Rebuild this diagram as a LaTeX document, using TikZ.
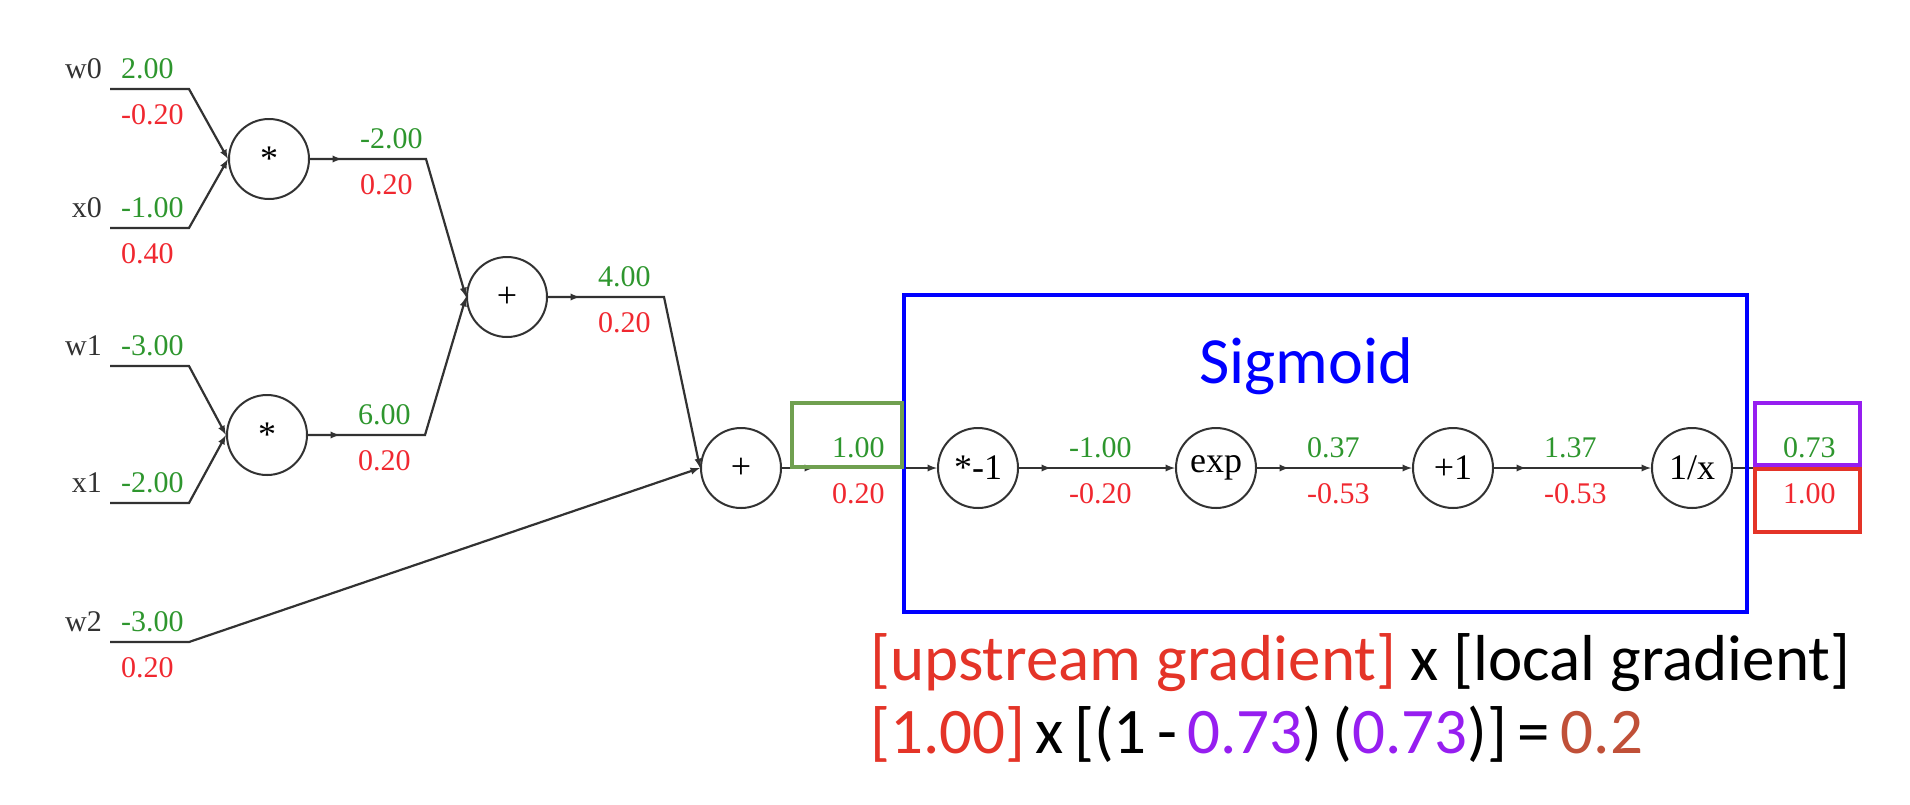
\documentclass[tikz,border=0pt]{standalone}
\usepackage{fontspec}
\setmainfont{Liberation Serif}
\newfontfamily\slidefont{Carlito}
\usetikzlibrary{positioning,arrows}

\definecolor{valgreen}{RGB}{46,150,46}
\definecolor{gradred}{RGB}{240,40,48}
\definecolor{boxgreen}{RGB}{112,160,80}
\definecolor{boxblue}{RGB}{0,0,255}
\definecolor{boxpurple}{RGB}{150,30,240}
\definecolor{boxred}{RGB}{228,52,40}
\definecolor{resbrown}{RGB}{192,80,56}
\definecolor{wiregray}{RGB}{50,50,50}

\tikzset{
  gate/.style={circle, draw=wiregray, line width=2, minimum size=80, inner sep=0, font=\fontsize{36}{40}\selectfont},
  wire/.style={line width=2.2, color=wiregray},
  val/.style={text=valgreen, font=\fontsize{30}{34}\selectfont, anchor=base west, inner sep=0},
  grad/.style={text=gradred, font=\fontsize{30}{34}\selectfont, anchor=base west, inner sep=0},
  inname/.style={text=wiregray, font=\fontsize{30}{34}\selectfont, anchor=base east, inner sep=0},
  hilite/.style={line width=4},
}

\begin{document}
\begin{tikzpicture}[x=1pt,y=-1pt]
\useasboundingbox (0,0) rectangle (1910,804);

% gates
\node[gate] (m0) at (269,159) {\raisebox{-0.25ex}{*}};
\node[gate] (m1) at (267,435) {\raisebox{-0.25ex}{*}};
\node[gate] (p0) at (507,297) {+};
\node[gate] (p1) at (741,468) {+};
\node[gate] (neg) at (978,468) {*-1};
\node[gate] (ex) at (1216,468) {exp};
\node[gate] (inc) at (1453,468) {+1};
\node[gate] (inv) at (1692,468) {1/x};

% input wires
\coordinate (w0s) at (110,89);  \coordinate (w0b) at (189,89);
\coordinate (x0s) at (110,228); \coordinate (x0b) at (189,228);
\coordinate (w1s) at (110,366); \coordinate (w1b) at (189,366);
\coordinate (x1s) at (110,503); \coordinate (x1b) at (189,503);
\coordinate (w2s) at (110,642); \coordinate (w2b) at (189,642);
\draw[wire,-latex] (w0s) -- (w0b) -- (m0.west);
\draw[wire,-latex] (x0s) -- (x0b) -- (m0.west);
\draw[wire,-latex] (w1s) -- (w1b) -- (m1.west);
\draw[wire,-latex] (x1s) -- (x1b) -- (m1.west);
\draw[wire,-latex] (w2s) -- (w2b) -- (p1.west);

% inner wires
\coordinate (m0b) at (426,159);
\coordinate (m1b) at (425,435);
\coordinate (p0b) at (664,297);
\coordinate (outend) at (1858,468);
\draw[wire,-latex] (m0.east) -- (m0b) -- (p0.west);
\draw[wire,-latex] (m1.east) -- (m1b) -- (p0.west);
\draw[wire,-latex] (p0.east) -- (p0b) -- (p1.west);
\draw[wire,-latex] (p1.east) -- (neg.west);
\draw[wire,-latex] (neg.east) -- (ex.west);
\draw[wire,-latex] (ex.east) -- (inc.west);
\draw[wire,-latex] (inc.east) -- (inv.west);
\draw[wire] (inv.east) -- (outend);
\foreach \g in {m0,m1,p0,p1,neg,ex,inc}
  \draw[wire,-latex] (\g.east) -- ++(32,0);

% input labels
\node[inname] (w0l) at (102,78) {w0};
\node[val] (w0v) at (121,78) {2.00};
\node[grad] (w0g) at (121,124) {-0.20};
\node[inname] (x0l) at (102,217) {x0};
\node[val] (x0v) at (121,217) {-1.00};
\node[grad] (x0g) at (121,263) {0.40};
\node[inname] (w1l) at (102,355) {w1};
\node[val] (w1v) at (121,355) {-3.00};
\node[inname] (x1l) at (102,492) {x1};
\node[val] (x1v) at (121,492) {-2.00};
\node[inname] (w2l) at (102,631) {w2};
\node[val] (w2v) at (121,631) {-3.00};
\node[grad] (w2g) at (121,677) {0.20};

% edge values
\node[val] (m0v) at ([xshift=50,yshift=11]m0.east) {-2.00};
\node[grad] (m0g) at ([xshift=50,yshift=-35]m0.east) {0.20};
\node[val] (m1v) at ([xshift=50,yshift=11]m1.east) {6.00};
\node[grad] (m1g) at ([xshift=50,yshift=-35]m1.east) {0.20};
\node[val] (p0v) at ([xshift=50,yshift=11]p0.east) {4.00};
\node[grad] (p0g) at ([xshift=50,yshift=-35]p0.east) {0.20};
\node[val] (p1v) at ([xshift=50,yshift=11]p1.east) {1.00};
\node[grad] (p1g) at ([xshift=50,yshift=-35]p1.east) {0.20};
\node[val] (negv) at ([xshift=50,yshift=11]neg.east) {-1.00};
\node[grad] (negg) at ([xshift=50,yshift=-35]neg.east) {-0.20};
\node[val] (exv) at ([xshift=50,yshift=11]ex.east) {0.37};
\node[grad] (exg) at ([xshift=50,yshift=-35]ex.east) {-0.53};
\node[val] (incv) at ([xshift=50,yshift=11]inc.east) {1.37};
\node[grad] (incg) at ([xshift=50,yshift=-35]inc.east) {-0.53};
\node[val] (invv) at ([xshift=50,yshift=11]inv.east) {0.73};
\node[grad] (invg) at ([xshift=50,yshift=-35]inv.east) {1.00};

% highlight boxes
\draw[hilite, boxblue] (904,295) rectangle (1747,612);
\draw[hilite, boxgreen] (792,403) rectangle (902,467);
\draw[hilite, boxpurple] (1755,403) rectangle (1860,465);
\draw[hilite, boxred] (1755,469) rectangle (1860,532);
\node[anchor=base, inner sep=0, text=boxblue, font=\slidefont\fontsize{66}{70}\selectfont] (sig) at (1306,383) {Sigmoid};

% chain rule text
\node[anchor=base west, inner sep=0, font=\slidefont\fontsize{65}{70}\selectfont] (rule) at (870,680)
  {\textcolor{boxred}{[upstream gradient]} x [local gradient]};
\node[anchor=base west, inner sep=0, font=\slidefont\fontsize{65}{70}\selectfont] (calc) at (870,753)
  {\spaceskip=0.16em\relax\textcolor{boxred}{[1.00]} x [(1 - \textcolor{boxpurple}{0.73}) (\textcolor{boxpurple}{0.73})] = \textcolor{resbrown}{0.2}};
\end{tikzpicture}
\end{document}
